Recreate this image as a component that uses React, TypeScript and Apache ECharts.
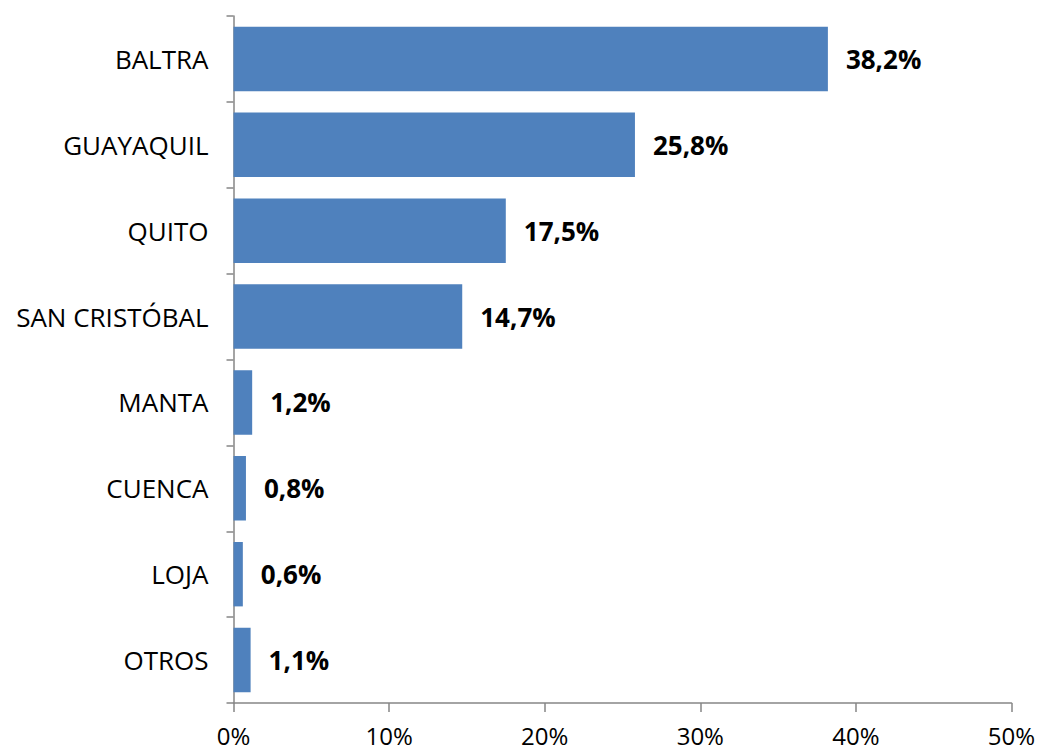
import React, { useEffect, useRef } from "react";
import * as echarts from "echarts";

const categories = ["BALTRA", "GUAYAQUIL", "QUITO", "SAN CRISTÓBAL", "MANTA", "CUENCA", "LOJA", "OTROS"];
const values = [38.2, 25.8, 17.5, 14.7, 1.2, 0.8, 0.6, 1.1];

const FONT = "'Open Sans', 'Noto Sans', sans-serif";

export default function App() {
  const ref = useRef<HTMLDivElement>(null);
  useEffect(() => {
    if (!ref.current) return;
    const chart = echarts.init(ref.current, undefined, { renderer: "svg" });
    chart.setOption({
      animation: false,
      backgroundColor: "#ffffff",
      grid: { left: 233.5, right: 28.5, top: 16, bottom: 51, containLabel: false },
      xAxis: {
        type: "value",
        min: 0,
        max: 50,
        interval: 10,
        axisLine: { show: true, lineStyle: { color: "#868686", width: 1.5 } },
        axisTick: { show: true, length: 9, lineStyle: { color: "#868686", width: 1.5 } },
        splitLine: { show: false },
        axisLabel: {
          formatter: (v: number) => v + "%",
          color: "#000",
          fontSize: 24,
          lineHeight: 24,
          fontFamily: FONT,
          margin: 20,
        },
      },
      yAxis: {
        type: "category",
        inverse: true,
        data: categories,
        axisLine: { show: true, lineStyle: { color: "#868686", width: 1.5 } },
        axisTick: { show: true, length: 7, lineStyle: { color: "#868686", width: 1.5 } },
        axisLabel: { color: "#000", fontSize: 26, fontFamily: FONT, margin: 25 },
      },
      series: [
        {
          type: "bar",
          data: values,
          barCategoryGap: "25%",
          itemStyle: { color: "#4F81BD" },
          label: {
            show: true,
            position: "right",
            distance: 18,
            formatter: (p: any) => p.value.toFixed(1).replace(".", ",") + "%",
            color: "#000",
            fontWeight: "bold",
            fontSize: 26,
            fontFamily: FONT,
          },
        },
      ],
    });
    return () => chart.dispose();
  }, []);
  return <div ref={ref} style={{ width: 1040, height: 754, position: "absolute", left: 0, top: 0 }} />;
}
